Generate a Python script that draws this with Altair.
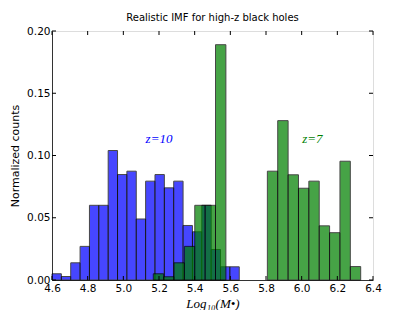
import altair as alt
import pandas as pd

# ---- data ----
blue_start = 4.60
blue_width = 0.0525
blue_heights = [0.005, 0.0028, 0.0138, 0.027, 0.060, 0.060, 0.104, 0.0847,
                0.0874, 0.049, 0.0794, 0.0847, 0.074, 0.0794, 0.0438, 0.0387,
                0.060, 0.0245, 0.0106, 0.0106]

green_start = 5.168
green_width = 0.05815
green_heights = [0.005, 0.0026, 0.0138, 0.027, 0.060, 0.060, 0.189, 0.0, 0.0,
                 0.0, 0.0, 0.0874, 0.128, 0.0845, 0.0737, 0.0794, 0.0435,
                 0.038, 0.0954, 0.0108]

x_ticks = [4.6, 4.8, 5.0, 5.2, 5.4, 5.6, 5.8, 6.0, 6.2, 6.4]
y_ticks = [0.0, 0.05, 0.10, 0.15, 0.20]

labels = ["z=10", "z=7"]
label_x = [5.20, 6.06]
label_y = [0.1135, 0.1135]
label_colors = ["#0000ff", "#008000"]

title = "Realistic IMF for high-z black holes"
x_title = "Log\u2081\u2080(M\u2022)"
y_title = "Normalized counts"

# ---- tables ----
def hist_table(start, width, heights):
    rows = []
    for i, h in enumerate(heights):
        if h > 0:
            rows.append({"lo": start + i * width, "hi": start + (i + 1) * width,
                         "h": h, "base": 0.0})
    return pd.DataFrame(rows)

blue_df = hist_table(blue_start, blue_width, blue_heights)
green_df = hist_table(green_start, green_width, green_heights)
xt_df = pd.DataFrame({"t": x_ticks})
yt_df = pd.DataFrame({"t": y_ticks})
lab_df = pd.DataFrame({"label": labels, "x": label_x, "y": label_y, "c": label_colors})

W, H = 321, 249
TL = 4  # inward tick length

xscale = alt.Scale(domain=[4.6, 6.4], nice=False, zero=False)
yscale = alt.Scale(domain=[0, 0.2], nice=False)

xaxis = alt.Axis(values=x_ticks, format=".1f", tickSize=0, labelPadding=3,
                 title=x_title, titleFont="Liberation Serif", titleFontStyle="italic",
                 titleFontSize=13, titlePadding=4)
yaxis = alt.Axis(values=y_ticks, format=".2f", tickSize=0, labelPadding=2,
                 title=y_title, titleFont="DejaVu Sans",
                 titleFontSize=11, titlePadding=6)

blue = alt.Chart(blue_df).mark_bar(color="#0000ff", opacity=0.72, stroke="black",
                                   strokeWidth=1).encode(
    x=alt.X("lo:Q", scale=xscale, axis=xaxis),
    x2="hi:Q",
    y=alt.Y("h:Q", scale=yscale, axis=yaxis),
    y2="base:Q",
)
green = alt.Chart(green_df).mark_bar(color="#008000", opacity=0.72, stroke="black",
                                     strokeWidth=1).encode(
    x=alt.X("lo:Q", scale=xscale, axis=xaxis),
    x2="hi:Q",
    y=alt.Y("h:Q", scale=yscale, axis=yaxis),
    y2="base:Q",
)

bottom_ticks = alt.Chart(xt_df).mark_rule(color="black", strokeWidth=1).encode(
    x=alt.X("t:Q", scale=xscale, axis=xaxis), y=alt.value(H), y2=alt.value(H - TL))
top_ticks = alt.Chart(xt_df).mark_rule(color="black", strokeWidth=1).encode(
    x=alt.X("t:Q", scale=xscale, axis=xaxis), y=alt.value(0), y2=alt.value(TL))
left_ticks = alt.Chart(yt_df).mark_rule(color="black", strokeWidth=1).encode(
    y=alt.Y("t:Q", scale=yscale, axis=yaxis), x=alt.value(0), x2=alt.value(TL))
right_ticks = alt.Chart(yt_df).mark_rule(color="black", strokeWidth=1).encode(
    y=alt.Y("t:Q", scale=yscale, axis=yaxis), x=alt.value(W - TL), x2=alt.value(W))

texts = alt.Chart(lab_df).mark_text(font="Liberation Serif", fontStyle="italic",
                                    fontSize=13, align="center",
                                    baseline="middle").encode(
    x=alt.X("x:Q", scale=xscale, axis=xaxis),
    y=alt.Y("y:Q", scale=yscale, axis=yaxis),
    text="label:N",
    color=alt.Color("c:N", scale=None),
)

chart = alt.layer(blue, green, bottom_ticks, top_ticks, left_ticks, right_ticks,
                  texts).properties(
    width=W, height=H,
    title=alt.TitleParams(title, fontSize=10, fontWeight="normal",
                          font="DejaVu Sans", color="black", anchor="middle",
                          offset=3),
    autosize=alt.AutoSizeParams(type="none"),
    padding={"left": 44, "top": 23, "right": 26, "bottom": 30},
).configure_view(stroke="#333", strokeWidth=1).configure(
    background="white"
).configure_axis(
    labelOverlap=False, labelFlush=False, labelBound=False, grid=False,
    labelFontSize=10.5, labelColor="black", labelFont="DejaVu Sans",
    titleFontWeight="normal", titleColor="black", domainColor="#333",
)

chart.save("out.html", embed_options={"renderer": "svg", "actions": False})
